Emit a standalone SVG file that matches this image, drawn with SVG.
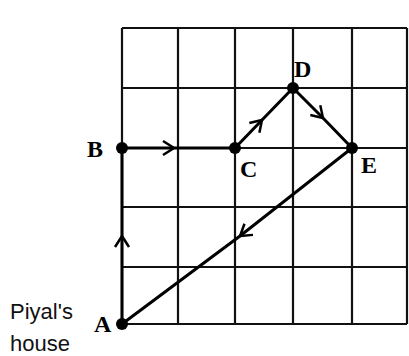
<svg xmlns="http://www.w3.org/2000/svg" width="409" height="356" viewBox="0 0 409 356">
<style>
.grid{stroke:#111;stroke-width:2.2;fill:none}
.path{stroke:#000;stroke-width:3;fill:none;marker-mid:url(#chev)}
.lbl{font-family:"Liberation Serif",serif;font-weight:bold;font-size:24px;fill:#000}
.txt{font-family:"Liberation Sans",sans-serif;font-size:22px;fill:#111}
</style>
<defs>
<marker id="chev" viewBox="-12 -9 14 18" markerWidth="14" markerHeight="18" markerUnits="userSpaceOnUse" orient="auto" refX="0" refY="0">
<path d="M-11,-7 L0,0 L-11,7" stroke="#000" stroke-width="2.5" fill="none"/>
</marker>
</defs>
<rect width="409" height="356" fill="#fff"/>
<g id="grid" class="grid">
<path d="M122,28 V324 M178,28 V324 M235,28 V324 M293,28 V324 M352,28 V324 M407,28 V324"/>
<path d="M122,28 H407 M122,88 H407 M122,148 H407 M122,207 H407 M122,267 H407 M122,324 H407"/>
</g>
<g id="connectors">
<path class="path" d="M122,324 L122,236 L122,148"/>
<path class="path" d="M122,148 L174,148 L235,148"/>
<path class="path" d="M235,148 L262,120 L293,88"/>
<path class="path" d="M293,88 L323,118 L352,148"/>
<path class="path" d="M352,148 L240,236 L122,324"/>
</g>
<g id="A"><circle cx="122" cy="324" r="6"/><text class="lbl" x="94" y="332">A</text></g>
<g id="B"><circle cx="122" cy="148" r="6"/><text class="lbl" x="87" y="157">B</text></g>
<g id="C"><circle cx="235" cy="148" r="6"/><text class="lbl" x="240" y="177">C</text></g>
<g id="D"><circle cx="293" cy="88" r="6"/><text class="lbl" x="294" y="77">D</text></g>
<g id="E"><circle cx="352" cy="148" r="6"/><text class="lbl" x="361" y="173">E</text></g>
<g id="house"><text class="txt" x="10" y="319">Piyal's</text><text class="txt" x="10" y="351">house</text></g>
</svg>
